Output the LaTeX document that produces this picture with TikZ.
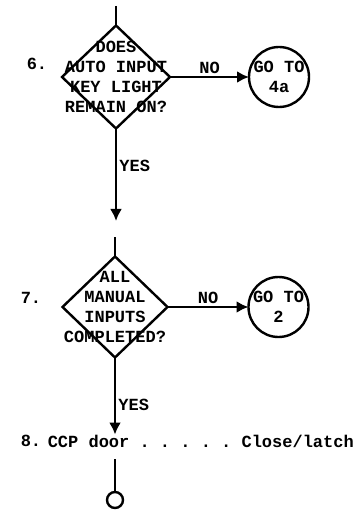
\documentclass[tikz,border=0pt]{standalone}
\usepackage{fontspec}
\setmonofont{Liberation Mono}
\usetikzlibrary{arrows.meta,positioning,shapes.geometric}
\newcommand{\txtfont}{\ttfamily\bfseries\fontsize{17}{20}\selectfont}
\tikzset{
  dia/.style={draw, diamond, line width=2.4pt, minimum width=108pt, minimum height=103pt, inner sep=0pt, outer sep=0pt},
  qtxt/.style={align=center, font=\txtfont, inner sep=0pt},
  goto/.style={draw, circle, line width=2.4pt, minimum size=60pt, inner sep=0pt, outer sep=0pt, align=center, font=\txtfont},
  stepno/.style={font=\txtfont, inner sep=0pt},
  lbl/.style={font=\txtfont, inner sep=2pt},
  ln/.style={line width=2.8pt},
  fl/.style={ln, -{Latex[length=12pt,width=12pt]}},
}
\begin{document}
\begin{tikzpicture}[x=1pt, y=-1pt, node distance=79pt]
\useasboundingbox (0,0) rectangle (358,510);
% step 6
\node[dia] (q6) at (116,77) {};
\node[qtxt] (q6txt) at (q6) {DOES\\AUTO INPUT\\KEY LIGHT\\REMAIN ON?};
\node[stepno] (n6) at (37,64) {6.};
\node[goto, right=of q6] (g4a) {GO TO\\4a};
\coordinate (top6) at (116,6);
\coordinate (end6) at (116,221);
% step 7
\node[dia, minimum width=105pt, minimum height=101pt] (q7) at (115,307) {};
\node[qtxt] (q7txt) at (q7) {ALL\\MANUAL\\INPUTS\\COMPLETED?};
\node[stepno] (n7) at (31,298) {7.};
\node[goto, right=81pt of q7] (g2) {GO TO\\2};
\coordinate (top7) at (115,237);
% step 8
\node[stepno] (n8) at (31,441) {8.};
\node[stepno, anchor=east] (s8) at (354,441) {CCP door . . . . . Close/latch};
\coordinate (c8) at (115,459);
\node[draw, circle, line width=2.4pt, minimum size=16pt, inner sep=0pt] (stop) at (115,500) {};
% connectors
\draw[ln] (top6) -- (q6.north);
\draw[fl] (q6.east) -- node[lbl, above] {NO} (g4a);
\draw[fl] (q6.south) -- node[lbl, right, pos=0.4] {YES} (end6);
\draw[ln] (top7) -- (q7.north);
\draw[fl] (q7.east) -- node[lbl, above] {NO} (g2);
\draw[fl] (q7.south) -- node[lbl, right, pos=0.62] {YES} (q7.south |- s8.north);
\draw[ln] (c8) -- (stop);
\end{tikzpicture}
\end{document}
